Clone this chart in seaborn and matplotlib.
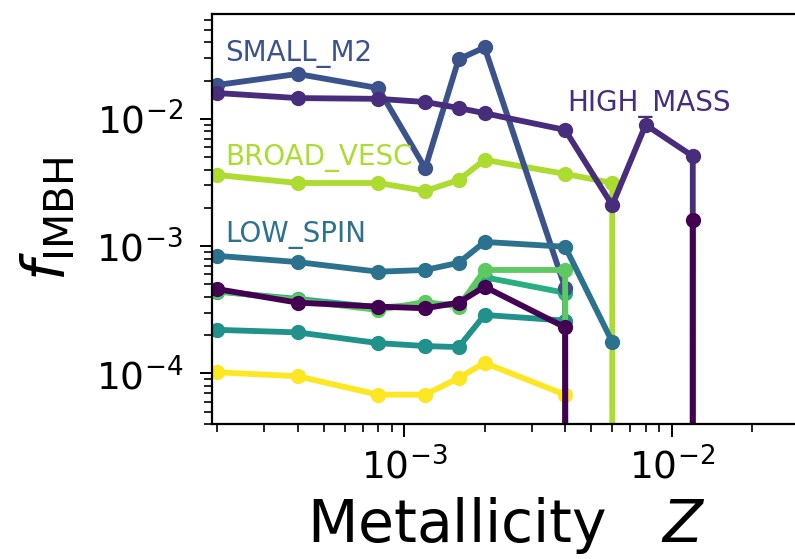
import numpy as np
import pandas as pd
import matplotlib
matplotlib.use("Agg")
import matplotlib.pyplot as plt
import seaborn as sns

# ---------------- data ----------------
nan = np.nan
Z = [2e-4, 4e-4, 8e-4, 1.2e-3, 1.6e-3, 2e-3, 4e-3, 6e-3, 8e-3, 1.2e-2, 1.6e-2]

model_a = [4.6e-4, 3.6e-4, 3.35e-4, 3.25e-4, 3.6e-4, 4.8e-4, 2.3e-4, 0, 0, 1.6e-3, nan]
high_mass = [1.6e-2, 1.46e-2, 1.44e-2, 1.36e-2, 1.22e-2, 1.11e-2, 8.2e-3, 2.1e-3, 9.0e-3, 5.1e-3, 0]
small_m2 = [1.85e-2, 2.26e-2, 1.75e-2, 4.1e-3, 2.95e-2, 3.65e-2, 4.7e-4, 0, nan, nan, nan]
low_spin = [8.4e-4, 7.5e-4, 6.3e-4, 6.5e-4, 7.4e-4, 1.08e-3, 9.9e-4, 1.77e-4, nan, nan, nan]
model_b = [2.2e-4, 2.1e-4, 1.73e-4, 1.64e-4, 1.61e-4, 2.88e-4, 2.6e-4, 0, nan, nan, nan]
model_c = [4.4e-4, 3.85e-4, 3.3e-4, 3.45e-4, 3.5e-4, 5.7e-4, 4.3e-4, 0, nan, nan, nan]
model_d = [4.45e-4, 3.75e-4, 3.15e-4, 3.65e-4, 3.35e-4, 6.5e-4, 6.5e-4, 0, nan, nan, nan]
broad_vesc = [3.63e-3, 3.14e-3, 3.14e-3, 2.72e-3, 3.31e-3, 4.77e-3, 3.7e-3, 3.14e-3, 0, nan, nan]
model_e = [1.02e-4, 9.5e-5, 6.8e-5, 6.8e-5, 9.2e-5, 1.21e-4, 6.8e-5, nan, nan, nan, nan]

models = ["model_a", "HIGH_MASS", "SMALL_M2", "LOW_SPIN", "model_b",
          "model_c", "model_d", "BROAD_VESC", "model_e"]
values = [model_a, high_mass, small_m2, low_spin, model_b,
          model_c, model_d, broad_vesc, model_e]
labelled = ["SMALL_M2", "HIGH_MASS", "BROAD_VESC", "LOW_SPIN"]

# ---------------- table ----------------
rows = []
for name, vals in zip(models, values):
    for z, v in zip(Z, vals):
        if not np.isnan(v):
            rows.append({"Z": z, "f": v, "model": name})
df = pd.DataFrame(rows)

cols = plt.cm.viridis(np.linspace(0, 1, len(models)))
palette = {m: cols[i] for i, m in enumerate(models)}
draw_order = ["model_e", "BROAD_VESC", "model_c", "model_b", "SMALL_M2",
              "model_d", "LOW_SPIN", "HIGH_MASS", "model_a"]

# ---------------- figure ----------------
sns.set_style("ticks")
plt.rcParams["font.family"] = ["DejaVu Sans"]
plt.rcParams["mathtext.fontset"] = "dejavusans"
plt.rcParams["text.color"] = "black"
plt.rcParams["axes.labelcolor"] = "black"

fig = plt.figure(figsize=(7.95, 5.59), dpi=100)
ax = fig.add_axes([212 / 795, 1 - 424 / 559, (800 - 212) / 795, (424 - 13.5) / 559])
ax.set_xscale("log")
ax.set_yscale("log")

sns.lineplot(data=df, x="Z", y="f", hue="model", hue_order=draw_order,
             palette=palette, marker="o", markersize=11, markeredgewidth=0,
             linewidth=4.2, estimator=None, sort=False, legend=False, ax=ax)

ax.set_xlim(1.915e-4, 0.0302)
ax.set_ylim(4.0e-5, 0.0675)

# in-plot labels
label_pos = {"SMALL_M2": (2.14e-4, 2.86e-2), "BROAD_VESC": (2.14e-4, 4.35e-3),
             "LOW_SPIN": (2.14e-4, 1.08e-3), "HIGH_MASS": (4.06e-3, 1.16e-2)}
for name in labelled:
    x, y = label_pos[name]
    ax.text(x, y, name, color=palette[name], fontsize=20, ha="left", va="baseline")

ax.set_xlabel("Metallicity   $Z$", fontsize=42, labelpad=6, color="black")
ax.set_ylabel(r"$f_{\rm IMBH}$", fontsize=42, labelpad=13, color="black")

for s in ["top", "left", "bottom", "right"]:
    ax.spines[s].set_linewidth(1.6)
    ax.spines[s].set_color("black")

ax.tick_params(axis="both", which="major", direction="out", length=9, width=1.4,
               labelsize=27, colors="black")
ax.tick_params(axis="x", which="major", pad=8)
ax.tick_params(axis="y", which="major", pad=12)
ax.tick_params(axis="both", which="minor", direction="out", length=5.5, width=1.2,
               colors="black")
ax.tick_params(top=False, right=False, which="both")

fig.savefig("out.png", dpi=100)
